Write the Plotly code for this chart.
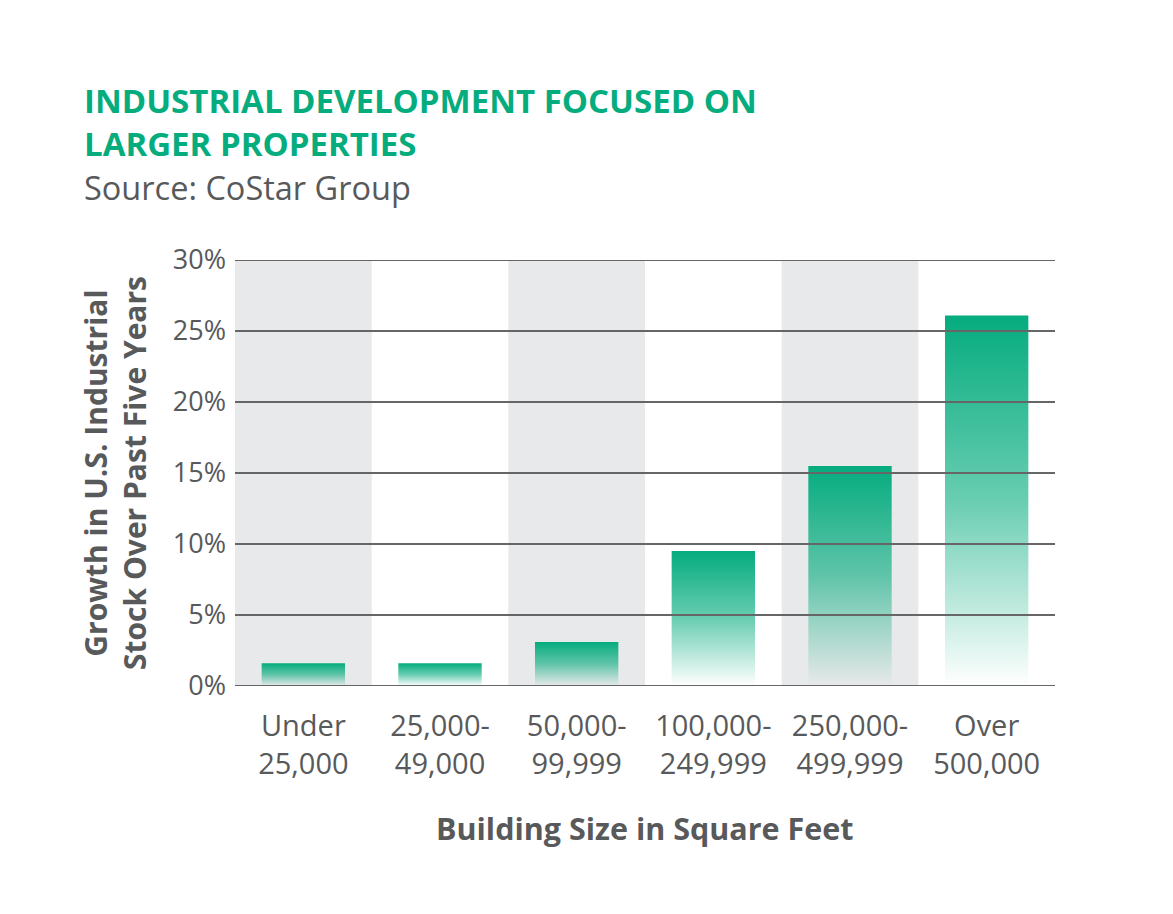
import plotly.graph_objects as go

categories = ["Under<br>25,000", "25,000-<br>49,000", "50,000-<br>99,999",
              "100,000-<br>249,999", "250,000-<br>499,999", "Over<br>500,000"]
growth = [1.6, 1.6, 3.1, 9.5, 15.5, 26.1]
y_ticks = [0, 5, 10, 15, 20, 25, 30]
y_tick_labels = ["0%", "5%", "10%", "15%", "20%", "25%", "30%"]
shaded_columns = [0, 2, 4]

GREEN = "#05AC7E"
TEXT = "#58595B"
GRID = "#666666"
SHADE = "#E8E9EA"
FONT = "'Open Sans', sans-serif"
BAR_W = 0.61

OFF = 8  # page body margin
W, H = 1173, 914
# plot area on the page: x 235..1055, y 260..686
L = 235 - OFF
T = 260 - OFF
R = W - (1055 - OFF)
B = H - (686 - OFF)
pw, ph = W - L - R, H - T - B


def px_x(p):
    return (p - OFF - L) / pw


def px_y(p):
    return (H - B - (p - OFF)) / ph


fig = go.Figure()

for i, v in enumerate(growth):
    x0, x1 = i - BAR_W / 2, i + BAR_W / 2
    fig.add_trace(go.Scatter(
        x=[x0, x0, x1, x1, x0], y=[0, v, v, 0, 0],
        mode="lines", fill="toself", line=dict(width=0),
        fillgradient=dict(type="vertical",
                          colorscale=[[0, "rgba(5,172,126,0)"],
                                      [0.5, "rgba(5,172,126,0.6)"],
                                      [1, "rgba(5,172,126,1)"]]),
        showlegend=False, hoverinfo="skip"))

shapes = []
for c in shaded_columns:
    shapes.append(dict(type="rect", xref="x", yref="y", x0=c - 0.5, x1=c + 0.5,
                       y0=y_ticks[0], y1=y_ticks[-1], fillcolor=SHADE,
                       line=dict(width=0), layer="below"))
for t in y_ticks:
    shapes.append(dict(type="line", xref="paper", yref="y", x0=0, x1=1, y0=t, y1=t,
                       line=dict(color=GRID, width=2), layer="above"))

annotations = [
    dict(text="<b>INDUSTRIAL DEVELOPMENT FOCUSED ON<br>LARGER PROPERTIES</b>",
         xref="paper", yref="paper", x=px_x(82), y=px_y(122), xanchor="left", yanchor="middle",
         showarrow=False, align="left", font=dict(family=FONT, size=33, color=GREEN)),
    dict(text="Source: CoStar Group",
         xref="paper", yref="paper", x=px_x(82), y=px_y(187), xanchor="left", yanchor="middle",
         showarrow=False, align="left", font=dict(family=FONT, size=32.5, color=TEXT)),
    dict(text="<b>Growth in U.S. Industrial<br>Stock Over Past Five Years</b>",
         xref="paper", yref="paper", x=px_x(115), y=px_y(473), xanchor="center", yanchor="middle",
         textangle=-90, showarrow=False, align="center",
         font=dict(family=FONT, size=30, color=TEXT)),
    dict(text="<b>Building Size in Square Feet</b>",
         xref="paper", yref="paper", x=px_x(645), y=px_y(828), xanchor="center", yanchor="middle",
         showarrow=False, font=dict(family=FONT, size=30.5, color=TEXT)),
]

fig.update_layout(
    width=W, height=H,
    margin=dict(l=L, r=R, t=T, b=B),
    paper_bgcolor="white", plot_bgcolor="white",
    shapes=shapes, annotations=annotations,
    xaxis=dict(range=[-0.5, 5.5], tickmode="array", tickvals=list(range(len(categories))),
               ticktext=categories, showgrid=False, zeroline=False, showline=False,
               ticks="", ticklabelstandoff=20,
               tickfont=dict(family=FONT, size=29, color=TEXT), fixedrange=True),
    yaxis=dict(range=[0, 30], tickmode="array", tickvals=y_ticks, ticktext=y_tick_labels,
               showgrid=False, zeroline=False, showline=False, ticks="",
               ticklabelstandoff=8,
               tickfont=dict(family=FONT, size=27, color=TEXT), fixedrange=True),
)

fig.write_html("out.html")
